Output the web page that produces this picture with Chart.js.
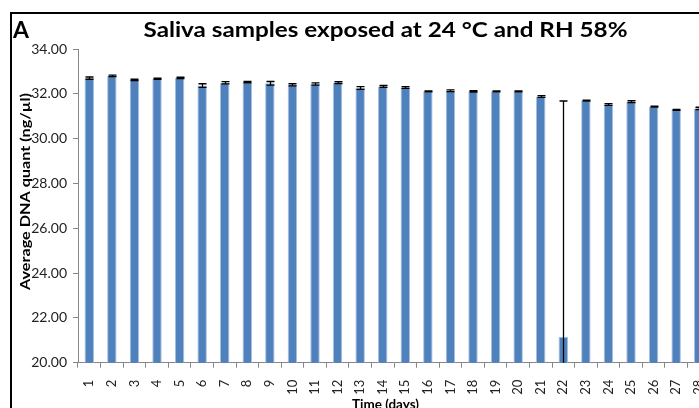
<!DOCTYPE html>
<html>
<head>
<meta charset="utf-8">
<script src="https://cdn.jsdelivr.net/npm/chart.js@4.4.1/dist/chart.umd.min.js"></script>
<style>
  html, body { margin: 0; padding: 0; background: #fff; overflow: hidden; width: 699px; height: 408px; }
  #wrap { position: relative; width: 730px; height: 408px; }
</style>
</head>
<body>
<div id="wrap"><canvas id="c" width="730" height="408"></canvas></div>
<script>
const panelLetter = "A";
const chartTitle = "Saliva samples exposed at 24 °C and RH 58%";
const yAxisTitle = "Average DNA quant (ng/µl)";
const xAxisTitle = "Time (days)";
const days = ["1","2","3","4","5","6","7","8","9","10","11","12","13","14","15","16","17","18","19","20","21","22","23","24","25","26","27","28"];
const dnaQuant = [32.70, 32.80, 32.62, 32.67, 32.71, 32.37, 32.49, 32.52, 32.47, 32.40, 32.44, 32.50, 32.26, 32.33,
                  32.28, 32.11, 32.14, 32.11, 32.11, 32.11, 31.88, 21.16, 31.70, 31.52, 31.65, 31.43, 31.28, 31.35];
const dnaError = [0.05, 0.03, 0.03, 0.03, 0.03, 0.08, 0.05, 0.03, 0.08, 0.05, 0.05, 0.04, 0.06, 0.04,
                  0.04, 0.02, 0.04, 0.03, 0.02, 0.02, 0.04, 10.52, 0.02, 0.04, 0.04, 0.02, 0.02, 0.05];
const yMin = 20, yMax = 34, yStep = 2;

// draw text at a given font size, stretched along its direction to a target width
function stretchText(ctx, text, x, y, font, targetWidth) {
  ctx.font = font;
  const w = ctx.measureText(text).width;
  ctx.save();
  ctx.translate(x, y);
  ctx.scale(targetWidth / w, 1);
  ctx.fillText(text, 0, 0);
  ctx.restore();
}

const decorPlugin = {
  id: 'decor',
  beforeDraw(chart) {
    const ctx = chart.ctx;
    ctx.save();
    ctx.fillStyle = '#fff';
    ctx.fillRect(0, 0, chart.width, chart.height);
    // frame
    ctx.fillStyle = '#000';
    ctx.fillRect(10, 12, chart.width, 2);
    ctx.fillRect(10, 12, 2, chart.height);
    // panel letter
    ctx.textBaseline = 'alphabetic';
    ctx.textAlign = 'left';
    ctx.font = 'bold 23px Lato';
    ctx.fillText(panelLetter, 13, 38);
    // title
    ctx.textAlign = 'center';
    stretchText(ctx, chartTitle, 385.5, 37, 'bold 20px Lato', 484);
    // x axis title
    stretchText(ctx, xAxisTitle, 385.5, 409, 'bold 13px Lato', 67);
    // y axis title
    ctx.translate(25.5, 191.5);
    ctx.rotate(-Math.PI / 2);
    ctx.textBaseline = 'middle';
    stretchText(ctx, yAxisTitle, 0, 0, 'bold 13px Lato', 197);
    ctx.restore();
  },
  afterDatasetsDraw(chart) {
    const ctx = chart.ctx;
    const meta = chart.getDatasetMeta(0);
    const ys = chart.scales.y;
    const area = chart.chartArea;
    ctx.save();
    ctx.beginPath();
    ctx.rect(area.left, area.top - 10, area.right - area.left, area.bottom - area.top + 10);
    ctx.clip();
    ctx.strokeStyle = '#000';
    ctx.lineWidth = 1.3;
    meta.data.forEach((bar, i) => {
      const v = dnaQuant[i], e = dnaError[i];
      const x = Math.round(bar.x) + 0.5;
      const yTop = ys.getPixelForValue(v + e);
      const yBot = ys.getPixelForValue(v - e);
      const cap = 4;
      ctx.beginPath();
      ctx.moveTo(x, yTop); ctx.lineTo(x, yBot);
      ctx.moveTo(x - cap, yTop); ctx.lineTo(x + cap, yTop);
      ctx.moveTo(x - cap, yBot); ctx.lineTo(x + cap, yBot);
      ctx.stroke();
    });
    ctx.restore();
  }
};

new Chart(document.getElementById('c'), {
  type: 'bar',
  data: {
    labels: days,
    datasets: [{
      data: dnaQuant,
      backgroundColor: '#4F81BD',
      borderColor: '#A9C1E0',
      borderWidth: 1,
      barPercentage: 0.42,
      categoryPercentage: 1.0
    }]
  },
  options: {
    responsive: false,
    devicePixelRatio: 1,
    animation: false,
    layout: { padding: { left: 12, right: 20, top: 49, bottom: 0 } },
    plugins: { legend: { display: false }, title: { display: false }, tooltip: { enabled: false } },
    scales: {
      x: {
        grid: { display: true, offset: true, drawOnChartArea: false, tickLength: 5, color: '#868686' },
        border: { display: true, color: '#868686' },
        ticks: { autoSkip: false, maxRotation: 90, minRotation: 90, padding: 12, color: '#222', font: { family: 'Lato', size: 13 } },
        afterFit(scale) { scale.height = 45.3; }
      },
      y: {
        min: yMin, max: yMax,
        grid: { display: true, drawOnChartArea: false, tickLength: 5, color: '#868686' },
        border: { display: true, color: '#868686' },
        ticks: { stepSize: yStep, padding: 6, color: '#222', font: { family: 'Lato', size: 14 },
                 callback: v => Number(v).toFixed(2) },
        afterFit(scale) { scale.width = 66; }
      }
    }
  },
  plugins: [decorPlugin]
});
</script>
</body>
</html>
